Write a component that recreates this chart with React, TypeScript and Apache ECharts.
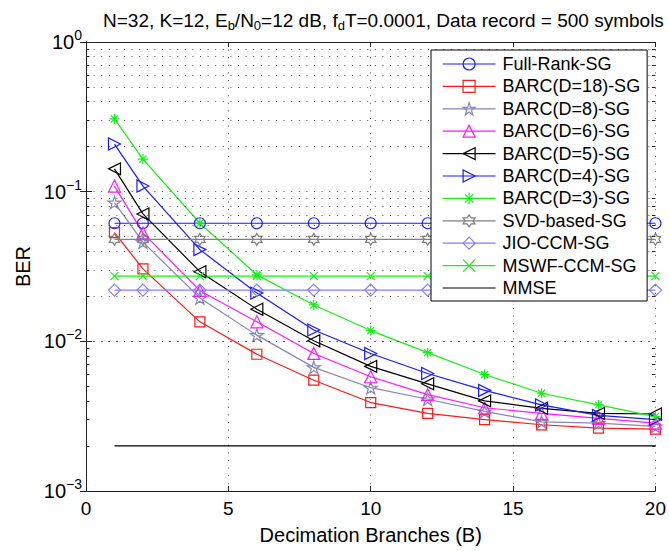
import { useEffect, useRef } from 'react';
import * as echarts from 'echarts';

// ---------- data ----------
const xBarc = [1, 2, 4, 6, 8, 10, 12, 14, 16, 18, 20];
const xFlat = [1, 2, 4, 6, 8, 10, 12, 16, 20];
const xMmse = [1, 20];

const fullRankSG = [0.0615, 0.0615, 0.0615, 0.0615, 0.0615, 0.0615, 0.0615, 0.0615, 0.0615];
const barc18 = [0.0532, 0.0305, 0.0135, 0.0082, 0.0055, 0.0039, 0.0033, 0.0030, 0.00277, 0.00263, 0.00259];
const barc8 = [0.0845, 0.046, 0.0195, 0.011, 0.0067, 0.0049, 0.0041, 0.0034, 0.0029, 0.00284, 0.0027];
const barc6 = [0.109, 0.053, 0.0218, 0.0135, 0.0083, 0.0058, 0.0044, 0.0036, 0.0033, 0.00306, 0.00284];
const barc5 = [0.142, 0.071, 0.0292, 0.0164, 0.0101, 0.0068, 0.0052, 0.0040, 0.00357, 0.0033, 0.00327];
const barc4 = [0.208, 0.109, 0.041, 0.021, 0.0119, 0.0083, 0.0061, 0.0047, 0.00376, 0.0032, 0.0030];
const barc3 = [0.306, 0.165, 0.0615, 0.0278, 0.0175, 0.0118, 0.0084, 0.0060, 0.0045, 0.00376, 0.00314];
const svdSG = [0.048, 0.048, 0.048, 0.048, 0.048, 0.048, 0.048, 0.048, 0.048];
const jioCcmSG = [0.022, 0.022, 0.022, 0.022, 0.022, 0.022, 0.022, 0.022, 0.022];
const mswfCcmSG = [0.0273, 0.0273, 0.0273, 0.0273, 0.0273, 0.0273, 0.0273, 0.0273, 0.0273];
const mmse = [0.002, 0.002];

const seriesNames = [
  'Full-Rank-SG', 'BARC(D=18)-SG', 'BARC(D=8)-SG', 'BARC(D=6)-SG', 'BARC(D=5)-SG',
  'BARC(D=4)-SG', 'BARC(D=3)-SG', 'SVD-based-SG', 'JIO-CCM-SG', 'MSWF-CCM-SG', 'MMSE',
];
const minorMultipliers = [2, 3, 4, 5, 6, 7, 8, 9];
const decades = [0.001, 0.01, 0.1];

const titleText = '{a|N=32, K=12, E}{s|b}{a|/N}{s|0}{a|=12 dB, f}{s|d}{a|T=0.0001, Data record = 500 symbols}';
const xName = 'Decimation Branches (B)';
const yName = 'BER';

// ---------- symbols ----------
const SYM = {
  circle: 'path://M100,50 A50,50 0 1 1 0,50 A50,50 0 1 1 100,50 Z',
  square: 'path://M0,0 L100,0 L100,100 L0,100 Z',
  pentagram: 'path://M50,0 L61.23,34.55 L97.55,34.55 L68.17,55.9 L79.39,90.45 L50,69.1 L20.61,90.45 L31.83,55.9 L2.45,34.55 L38.77,34.55 Z',
  triUp: 'path://M50,0 L100,100 L0,100 Z',
  triLeft: 'path://M0,50 L100,0 L100,100 Z',
  triRight: 'path://M100,50 L0,0 L0,100 Z',
  asterisk: 'path://M50,0 L50,100 M0,50 L100,50 M15,15 L85,85 M85,15 L15,85',
  hexagram: 'path://M50,0 L64.43,25 L93.3,25 L78.87,50 L93.3,75 L64.43,75 L50,100 L35.57,75 L6.7,75 L21.13,50 L6.7,25 L35.57,25 Z',
  diamond: 'path://M50,0 L100,50 L50,100 L0,50 Z',
  cross: 'path://M0,0 L100,100 M100,0 L0,100',
};

const FONT = "'Liberation Sans', Arial, Helvetica, sans-serif";

function pairs(xs: number[], ys: number[]) {
  return xs.map((x, i) => [x, ys[i]]);
}

function mkSeries(name: string, xs: number[], ys: number[], color: string, symbol: string, size: number, keep = false) {
  return {
    name,
    type: 'line',
    data: pairs(xs, ys),
    symbol,
    symbolSize: size,
    symbolKeepAspect: keep,
    showSymbol: true,
    showAllSymbol: true,
    lineStyle: { color, width: 1.2 },
    itemStyle: { color: 'rgba(0,0,0,0)', borderColor: color, borderWidth: 1.2 },
    emphasis: { disabled: true },
    silent: true,
    z: 3,
  };
}

export default function App() {
  const ref = useRef<HTMLDivElement>(null);
  useEffect(() => {
    if (!ref.current) return;
    const chart = echarts.init(ref.current, undefined, { renderer: 'svg' });

    const dotted = { color: '#555', width: 1, type: [1, 6.6] as number[] };

    const minorVals: number[] = [];
    decades.forEach((d) => minorMultipliers.forEach((m) => minorVals.push(+(m * d).toPrecision(3))));

    const series: any[] = [
      mkSeries(seriesNames[0], xFlat, fullRankSG, '#1a1aff', SYM.circle, 11),
      mkSeries(seriesNames[1], xBarc, barc18, '#ff1a1a', SYM.square, 10),
      mkSeries(seriesNames[2], xBarc, barc8, '#8585b8', SYM.pentagram, 13, true),
      mkSeries(seriesNames[3], xBarc, barc6, '#ff1aff', SYM.triUp, 12),
      mkSeries(seriesNames[4], xBarc, barc5, '#000000', SYM.triLeft, 12),
      mkSeries(seriesNames[5], xBarc, barc4, '#1a1aff', SYM.triRight, 12),
      mkSeries(seriesNames[6], xBarc, barc3, '#1aee1a', SYM.asterisk, 10),
      mkSeries(seriesNames[7], xFlat, svdSG, '#808080', SYM.hexagram, 12, true),
      mkSeries(seriesNames[8], xFlat, jioCcmSG, '#8080ff', SYM.diamond, 12),
      mkSeries(seriesNames[9], xFlat, mswfCcmSG, '#1aee1a', SYM.cross, 8),
      {
        name: seriesNames[10],
        type: 'line',
        data: pairs(xMmse, mmse),
        symbol: 'circle',
        showSymbol: false,
        lineStyle: { color: '#000', width: 1.2 },
        itemStyle: { color: 'rgba(0,0,0,0)', borderColor: 'rgba(0,0,0,0)', borderWidth: 0 },
        emphasis: { disabled: true },
        silent: true,
        z: 3,
      },
      {
        type: 'line',
        data: [],
        silent: true,
        z: 1,
        markLine: {
          silent: true,
          symbol: 'none',
          label: { show: false },
          lineStyle: dotted,
          emphasis: { disabled: true },
          data: minorVals.map((v) => ({ yAxis: v })),
        },
      },
      {
        type: 'line',
        data: [],
        silent: true,
        z: 2,
        markLine: {
          silent: true,
          symbol: 'none',
          label: { show: false },
          lineStyle: { color: '#222', width: 1, type: 'solid' },
          emphasis: { disabled: true },
          data: [
            ...minorVals.map((v) => [{ coord: [0, v] }, { coord: [0.12, v] }]),
            ...minorVals.map((v) => [{ coord: [19.88, v] }, { coord: [20, v] }]),
          ],
        },
      },
    ];

    const expLabel = (v: number) => {
      const e = Math.round(Math.log10(v));
      const s = e < 0 ? '\u2212' + -e : String(e);
      return `{b|10}{s|${s}}`;
    };

    const option: any = {
      animation: false,
      backgroundColor: '#fff',
      textStyle: { fontFamily: FONT },
      title: {
        text: titleText,
        left: 98,
        top: 3,
        textStyle: {
          fontWeight: 'normal',
          rich: {
            a: { fontSize: 19, fontFamily: FONT, fontWeight: 'normal', color: '#000', lineHeight: 24 },
            s: { fontSize: 13, fontFamily: FONT, fontWeight: 'normal', color: '#000', verticalAlign: 'bottom' },
          },
        },
      },
      grid: { left: 86, right: 13, top: 42, bottom: 60, containLabel: false },
      legend: {
        orient: 'vertical',
        left: 431,
        top: 50,
        backgroundColor: '#fff',
        borderColor: '#000',
        borderWidth: 1,
        borderRadius: 0,
        padding: [5, 7, 4, 11],
        itemWidth: 53,
        itemHeight: 15,
        itemGap: 4.4,
        itemStyle: { borderWidth: 1.2 },
        lineStyle: { width: 1.2 },
        textStyle: { fontSize: 18, lineHeight: 17, fontFamily: FONT, color: '#000', padding: [0, 0, 0, 2] },
        selectedMode: false,
        data: seriesNames,
        z: 10,
      },
      xAxis: [
        {
          type: 'value',
          min: 0,
          max: 20,
          interval: 5,
          name: xName,
          nameLocation: 'middle',
          nameGap: 34,
          nameTextStyle: { fontSize: 20, fontFamily: FONT, color: '#000' },
          axisLine: { show: true, lineStyle: { color: '#222', width: 1 } },
          axisTick: { show: true, inside: true, length: 5, lineStyle: { color: '#222' } },
          axisLabel: { show: true, fontSize: 19, fontFamily: FONT, color: '#000', margin: 8 },
          splitLine: { show: true, lineStyle: dotted },
        },
        {
          type: 'value',
          min: 0,
          max: 20,
          interval: 5,
          position: 'top',
          axisLine: { show: true, lineStyle: { color: '#222', width: 1 } },
          axisTick: { show: true, inside: true, length: 5, lineStyle: { color: '#222' } },
          axisLabel: { show: false },
          splitLine: { show: false },
        },
      ],
      yAxis: [
        {
          type: 'log',
          logBase: 10,
          min: 0.001,
          max: 1,
          name: yName,
          nameLocation: 'middle',
          nameGap: 44,
          nameTextStyle: { fontSize: 20, fontFamily: FONT, color: '#000' },
          axisLine: { show: true, lineStyle: { color: '#222', width: 1 } },
          axisTick: { show: true, inside: true, length: 6, lineStyle: { color: '#222' } },
          axisLabel: {
            show: true,
            margin: 4,
            formatter: expLabel,
            rich: {
              b: { fontSize: 20, fontFamily: FONT, color: '#000', lineHeight: 28 },
              s: { fontSize: 14, fontFamily: FONT, color: '#000', verticalAlign: 'top' },
            },
          },
          splitLine: { show: true, lineStyle: dotted },
        },
        {
          type: 'log',
          logBase: 10,
          min: 0.001,
          max: 1,
          position: 'right',
          axisLine: { show: true, lineStyle: { color: '#222', width: 1 } },
          axisTick: { show: true, inside: true, length: 6, lineStyle: { color: '#222' } },
          axisLabel: { show: false },
          splitLine: { show: false },
        },
      ],
      series,
    };
    chart.setOption(option);
    return () => chart.dispose();
  }, []);

  return <div ref={ref} style={{ position: 'fixed', left: 0, top: 0, width: 669, height: 551 }} />;
}
